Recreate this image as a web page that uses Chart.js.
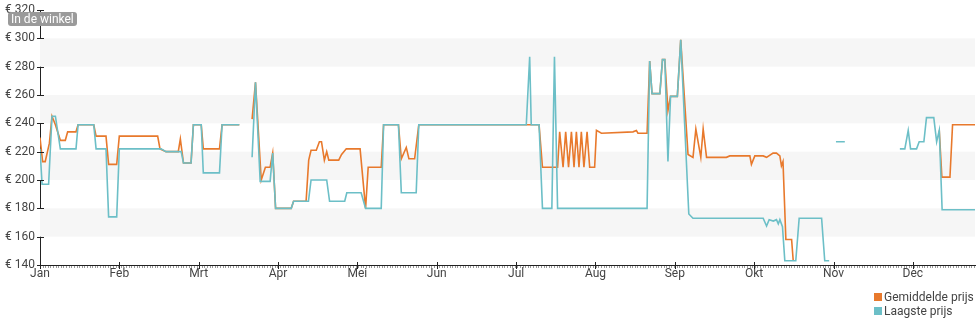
<!DOCTYPE html>
<html>
<head>
<meta charset="utf-8">
<script src="https://cdn.jsdelivr.net/npm/chart.js@4.4.1/dist/chart.umd.min.js"></script>
<style>
  html, body { margin: 0; padding: 0; background: #fff; }
  #wrap { position: relative; width: 980px; height: 325px; font-family: Roboto, "Noto Sans", sans-serif; }
  #shopLabel { position: absolute; left: 8px; top: 12px; height: 14px; line-height: 14px; padding: 0 3px;
    background: #9a9a9a; color: #fff; font-size: 12px; border-radius: 3px; }
  #legend { position: absolute; left: 874px; top: 290px; font-size: 12px; color: #444; line-height: 14px; }
  #legend span.sw { display: inline-block; width: 8px; height: 8px; margin-right: 2px; }
</style>
</head>
<body>
<div id="wrap">
  <canvas id="chart" width="980" height="325"></canvas>
  <div id="shopLabel">In de winkel</div>
  <div id="legend">
    <div><span class="sw" style="background:#e8792c"></span>Gemiddelde prijs</div>
    <div><span class="sw" style="background:#6cbfc7"></span>Laagste prijs</div>
  </div>
</div>
<script>
// month labels, one tick per month (equal spacing on the axis)
const monthLabels = ['Jan','Feb','Mrt','Apr','Mei','Jun','Jul','Aug','Sep','Okt','Nov','Dec'];
const daysPerMonth = 365 / 12;
const yTicks = [140, 160, 180, 200, 220, 240, 260, 280, 300, 320];
const bandRanges = [[160, 180], [200, 220], [240, 260], [280, 300]];

// Gemiddelde prijs (day of year, euro); null = no data
const avgDays = [0,1,2,3.6,4.6,5.9,7.8,9.7,10.6,13.8,14.6,20.6,21.5,25.3,26.3,29.4,30.4,45.1,46,48.3,53,53.8,55,57.9,58.8,61.8,62.6,68.8,69.8,76.4,
  78,
  81.3,82.6,84.8,86.4,88.2,89.2,90.3,96.3,97.2,102,103,103.9,105.9,107.1,107.9,109,109.9,110.7,114.5,115.6,117.4,122.7,124.8,125.8,130.8,131.7,137.4,138.5,140.4,141.4,143.6,145.2,
  186.4,191.3,192.6,196.2,198.4,199.2,200.5,201.5,202.6,203.7,204.7,205.6,206.6,207.5,208.5,209.7,210.7,212.6,213.3,215.2,227.3,228.6,229.2,232.7,
  233.7,234.6,237.6,238.6,239.5,240.7,241.7,244.3,245.6,248.4,250.3,251.4,253.3,254.2,255.5,263.1,264.4,272.1,272.7,274,277.2,278.5,281,282.3,283.6,284.2,284.8,285.9,288.1,288.7,
  290,
  344.7,345.7,348.8,349.8,358.4];
const avgPrices = [230,213,213,226,245,239,228,228,234,234,239,239,231,231,211,211,231,231,222,220,220,229,212,212,239,239,222,222,239,239,
  null,
  243,269,200,209,209,219,180,180,185,185,214,221,221,227,227,214,220,214,214,218,222,222,180,209,209,239,239,215,223,215,215,239,
  239,239,209,209,209,234,209,234,209,234,209,234,209,234,209,234,209,209,235,233,234,235,233,233,
  284,261,261,285,285,249,259,259,299,218,216,236,216,236,216,216,217,217,211,217,217,216,219,219,217,210,213,158,158,143.5,
  null,
  235,202,202,239,239];

// Laagste prijs (day of year, euro); null = no data
const lowDays = [0,0.8,3.3,4.6,5.9,7.8,13.8,14.6,20.6,21.5,25.3,26.3,29.4,30.4,46.4,48.3,54.1,55,57.9,58.8,61.8,62.6,68.8,69.8,76.4,
  78,
  81.3,82.6,84.4,88.2,89.2,90.3,96.3,97.2,102.9,103.9,109.9,111,116.8,117.6,123.1,124.8,130.8,131.7,137.4,138.5,144.2,145.2,
  186.4,187.7,188.3,191.3,192.6,196.2,197.2,198.4,232.7,233.7,234.6,237.6,238.6,239.5,240.7,241.7,244.3,245.6,248.7,250.3,
  277.2,278.5,279.5,281.1,282.3,283,283.6,284.6,285.5,289.7,291,299.6,300.8,302.5,
  303.5,
  305.1,308.5,
  318,
  329.6,331.5,332.8,333.7,336,337,338.8,339.8,342.6,343.7,344.7,345.8,358.4];
const lowPrices = [222,197,197,245,245,222,222,239,239,222,222,174,174,222,222,220,220,212,212,239,239,205,205,239,239,
  null,
  216,269,199,199,219,180,180,185,185,200,200,185,185,191,191,180,180,239,239,191,191,239,
  239,287,239,239,180,180,287,180,180,284,261,261,285,285,213,259,259,299,176,173,
  173,167.5,172,171,172,169,172,167,143,143,173,173,143,143,
  null,
  227,227,
  null,
  222,222,235,222,222,227,227,244,244,227,235,179,179];

const toPoints = (xs, ys) => xs.map((x, i) => ({ x, y: ys[i] }));

const decorPlugin = {
  id: 'decor',
  beforeDatasetsDraw(chart) {
    const { ctx, chartArea: a, scales: { x, y } } = chart;
    ctx.save();
    ctx.fillStyle = '#f6f6f6';
    bandRanges.forEach(([lo, hi]) => {
      const top = y.getPixelForValue(hi), bot = y.getPixelForValue(lo);
      ctx.fillRect(a.left, top, a.right - a.left, bot - top);
    });
    ctx.restore();
  },
  afterDraw(chart) {
    const { ctx, chartArea: a, scales: { x, y } } = chart;
    ctx.save();
    // small daily ticks under the x axis
    ctx.strokeStyle = '#9a9a9a';
    ctx.lineWidth = 1;
    ctx.beginPath();
    for (let d = 0; d <= x.max; d++) {
      const px = Math.round(x.getPixelForValue(d)) + 0.5;
      ctx.moveTo(px, a.bottom + 1);
      ctx.lineTo(px, a.bottom + 3);
    }
    ctx.stroke();
    // y ticks cross the axis line
    ctx.strokeStyle = '#222';
    ctx.beginPath();
    yTicks.forEach(v => {
      const py = Math.round(y.getPixelForValue(v)) + 0.5;
      ctx.moveTo(a.left - 3, py);
      ctx.lineTo(a.left + 4, py);
    });
    monthLabels.forEach((m, i) => {
      const px = Math.round(x.getPixelForValue(i * daysPerMonth)) + 0.5;
      ctx.moveTo(px, a.bottom - 3);
      ctx.lineTo(px, a.bottom + 4);
    });
    ctx.stroke();
    ctx.restore();
  }
};

new Chart(document.getElementById('chart'), {
  type: 'line',
  data: {
    datasets: [
      {
        label: 'Gemiddelde prijs',
        data: toPoints(avgDays, avgPrices),
        borderColor: '#e8792c', backgroundColor: '#e8792c',
        borderWidth: 1.6, pointRadius: 0, tension: 0, spanGaps: false, order: 1
      },
      {
        label: 'Laagste prijs',
        data: toPoints(lowDays, lowPrices),
        borderColor: '#6cbfc7', backgroundColor: '#6cbfc7',
        borderWidth: 1.6, pointRadius: 0, tension: 0, spanGaps: false, order: 0
      }
    ]
  },
  options: {
    responsive: false, animation: false,
    layout: { padding: { top: 10, right: 5, left: 0, bottom: 0 } },
    plugins: { legend: { display: false }, tooltip: { enabled: false } },
    scales: {
      x: {
        type: 'linear', min: 0, max: 358.4,
        afterBuildTicks: s => { s.ticks = monthLabels.map((m, i) => ({ value: i * daysPerMonth })); },
        afterFit: s => { s.height = 60; },
        ticks: {
          autoSkip: false, maxRotation: 0, padding: 0,
          color: '#444', font: { family: 'Roboto', size: 12 },
          callback: (v, i) => monthLabels[i]
        },
        grid: { drawOnChartArea: false, drawTicks: true, tickLength: 2, color: 'rgba(0,0,0,0)' },
        border: { color: '#222', width: 1 }
      },
      y: {
        min: 140, max: 320,
        afterFit: s => { s.width = 40; },
        afterBuildTicks: s => { s.ticks = yTicks.map(v => ({ value: v })); },
        ticks: {
          padding: 2, color: '#444', font: { family: 'Roboto', size: 12 },
          callback: v => '€ ' + v
        },
        grid: { drawOnChartArea: false, tickLength: 3, color: 'rgba(0,0,0,0)' },
        border: { color: '#222', width: 1 }
      }
    }
  },
  plugins: [decorPlugin]
});
</script>
</body>
</html>
